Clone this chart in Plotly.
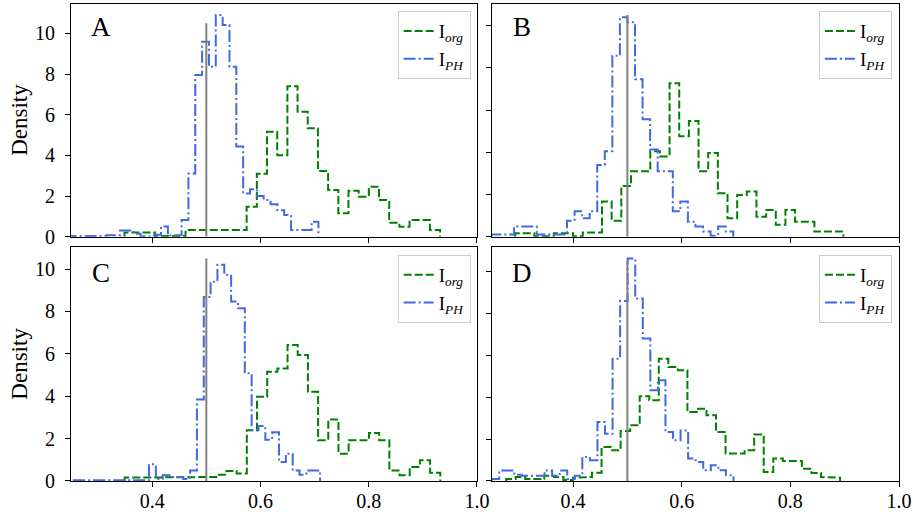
import plotly.graph_objects as go

# ---------------- data ----------------
X_RANGE = [0.25, 1.0]
X_TICKS = [0.4, 0.6, 0.8, 1.0]
Y_TICKS = [0, 2, 4, 6, 8, 10]
PANELS = ["A", "B", "C", "D"]
THRESHOLD = 0.5
THRESHOLD_TOP = 10.5
LABEL_ORG = "I<sub><i>org</i></sub>"
LABEL_PH = "I<sub><i>PH</i></sub>"

# Panel A
A_org_start = 0.3488
A_org_width = 0.01881
A_org_heights = [0.2, 0.2, 0.2, 0.03, 0.03, 0.03, 0.33, 0.33, 0.33, 0.33, 0.33, 0.33,
                 1.47, 3.1, 5.16, 4.0, 7.4, 6.15, 5.33, 3.23, 2.3, 1.15, 2.26, 1.97,
                 2.46, 1.8, 0.69, 0.49, 0.82, 0.82, 0.33]
A_ph_start = 0.2394
A_ph_width = 0.01264
A_ph_heights = [0.03, 0.03, 0.03, 0.03, 0.03, 0.03, 0.07, 0.07, 0.3, 0.3, 0.15,
                0.03, 0.0, 0.1, 0.5, 0.05, 0.08, 0.82, 3.11, 7.95, 9.59, 8.36,
                10.9, 10.41, 8.36, 4.43, 2.13, 2.33, 2.0, 1.8, 1.6, 1.3, 1.07,
                0.33, 0.33, 0.33, 0.74]

# Panel B
B_org_start = 0.2934
B_org_width = 0.01777
B_org_heights = [0.16, 0.16, 0.02, 0.02, 0.16, 0.16, 0.02, 0.2, 0.2,
                 1.67, 0.75, 2.4, 3.1, 3.1, 4.05, 3.8, 7.27, 4.76, 5.48, 3.1,
                 3.97, 2.06, 0.87, 1.98, 2.14, 0.95, 1.27, 0.56, 1.27, 0.71,
                 0.71, 0.24, 0.24, 0.24]
B_ph_start = 0.2498
B_ph_width = 0.01391
B_ph_heights = [0.1, 0.1, 0.1, 0.48, 0.48, 0.48, 0.1, 0.1, 0.1, 0.1,
                0.75, 1.2, 0.87, 1.2, 3.4, 4.05, 8.57, 10.4, 10.16, 7.46,
                5.56, 4.13, 3.1, 3.1, 1.2, 1.67, 0.71, 0.48, 0.24, 0.05,
                0.48, 0.24]

# Panel C
C_org_start = 0.3491
C_org_width = 0.01881
C_org_heights = [0.16, 0.16, 0.16, 0.16, 0.16, 0.16, 0.16, 0.19, 0.19, 0.3,
                 0.47, 0.35, 2.4, 3.97, 5.16, 5.31, 6.42, 5.95, 4.21, 1.92,
                 2.9, 1.29, 1.92, 1.92, 2.27, 1.92, 0.5, 0.27, 0.66, 0.98, 0.39]
C_ph_start = 0.2551
C_ph_width = 0.01264
C_ph_heights = [0.03, 0.03, 0.03, 0.03, 0.03, 0.03, 0.03, 0.03, 0.03, 0.03, 0.03,
                0.79, 0.1, 0.27, 0.19, 0.19, 0.1, 0.5, 3.85, 8.68, 9.4, 10.2,
                9.73, 8.47, 8.15, 5.08, 2.4, 2.6, 1.95, 2.3, 0.9, 1.29, 0.5,
                0.3, 0.5, 0.5]

# Panel D
D_org_start = 0.2769
D_org_width = 0.01756
D_org_heights = [0.1, 0.19, 0.1, 0.1, 0.25, 0.19, 0.05, 0.16, 0.19,
                 0.4, 1.63, 1.47, 2.39, 2.66, 4.05, 3.86, 5.85, 5.45, 5.3,
                 3.3, 3.46, 3.14, 2.34, 1.31, 1.31, 1.47, 2.22, 0.43, 1.07,
                 0.96, 0.96, 0.59, 0.38, 0.19, 0.16]
D_ph_start = 0.2502
D_ph_width = 0.01391
D_ph_heights = [0.1, 0.5, 0.5, 0.3, 0.25, 0.25, 0.25, 0.5, 0.25, 0.5, 0.1, 0.25,
                1.15, 0.99, 2.82, 2.26, 5.85, 8.6, 10.64, 8.72, 6.81, 4.34,
                4.82, 2.34, 1.95, 2.42, 1.07, 0.91, 0.51, 0.75, 0.51, 0.27]

SERIES = {
    "A": [(A_org_start, A_org_width, A_org_heights), (A_ph_start, A_ph_width, A_ph_heights)],
    "B": [(B_org_start, B_org_width, B_org_heights), (B_ph_start, B_ph_width, B_ph_heights)],
    "C": [(C_org_start, C_org_width, C_org_heights), (C_ph_start, C_ph_width, C_ph_heights)],
    "D": [(D_org_start, D_org_width, D_org_heights), (D_ph_start, D_ph_width, D_ph_heights)],
}

# ---------------- styling / layout ----------------
FONT = "Liberation Serif"
GREEN = "#008000"
BLUE = "#4169E1"
W, H = 913, 514
ML, MR, MT, MB = 71, 14, 4, 33
TICK_SIZE = 20
LEGEND_SIZE = 19
LETTER_SIZE = 27
YLABEL_SIZE = 23

X_DOMAINS = {"A": [0.0, 0.4903], "B": [0.5079, 1.0], "C": [0.0, 0.4903], "D": [0.5079, 1.0]}
Y_DOMAINS = {"A": [0.5122, 1.0], "B": [0.5122, 1.0], "C": [0.0, 0.4899], "D": [0.0, 0.4899]}
LEGEND_POS = {"A": (0.4827, 0.985), "B": (0.9915, 0.985), "C": (0.4827, 0.4738), "D": (0.9915, 0.4738)}


def step_path(start, width, heights):
    edges = [start + i * width for i in range(len(heights) + 1)]
    xs, ys = [edges[0]], [0.0]
    for i, h in enumerate(heights):
        xs += [edges[i], edges[i + 1]]
        ys += [h, h]
    xs.append(edges[-1])
    ys.append(0.0)
    return xs, ys


fig = go.Figure()
layout = dict(
    width=W, height=H,
    margin=dict(l=ML, r=MR, t=MT, b=MB, autoexpand=False),
    paper_bgcolor="white", plot_bgcolor="white",
    font=dict(family=FONT, size=TICK_SIZE, color="black"),
    showlegend=True,
)
annotations = []

for i, p in enumerate(PANELS):
    n = "" if i == 0 else str(i + 1)
    xa, ya = "x" + n, "y" + n
    leg = "legend" + n
    (os_, ow, oh), (ps, pw, ph) = SERIES[p]
    xo, yo = step_path(os_, ow, oh)
    xp, yp = step_path(ps, pw, ph)
    fig.add_trace(go.Scatter(x=xo, y=yo, mode="lines", xaxis=xa, yaxis=ya,
                             line=dict(color=GREEN, width=2, dash="8px,3px"),
                             name=LABEL_ORG, legend=leg))
    fig.add_trace(go.Scatter(x=xp, y=yp, mode="lines", xaxis=xa, yaxis=ya,
                             line=dict(color=BLUE, width=2, dash="12px,3px,2px,3px"),
                             name=LABEL_PH, legend=leg))
    fig.add_trace(go.Scatter(x=[THRESHOLD, THRESHOLD], y=[0, THRESHOLD_TOP], mode="lines",
                             xaxis=xa, yaxis=ya, line=dict(color="gray", width=2),
                             showlegend=False, hoverinfo="skip"))

    ymax = max(max(oh), max(ph), THRESHOLD_TOP) * 1.05
    bottom = p in ("C", "D")
    left = p in ("A", "C")
    layout["xaxis" + n] = dict(
        domain=X_DOMAINS[p], anchor=ya, range=X_RANGE, tickvals=X_TICKS,
        ticktext=[f"{v:.1f}" for v in X_TICKS], showticklabels=bottom,
        showline=True, linecolor="black", linewidth=1, mirror=True,
        ticks="outside", ticklen=5, tickcolor="black", tickwidth=1,
        showgrid=False, zeroline=False, ticklabelstandoff=-3, automargin=False,
        tickfont=dict(family=FONT, size=TICK_SIZE, color="black"),
    )
    layout["yaxis" + n] = dict(
        domain=Y_DOMAINS[p], anchor=xa, range=[0, ymax], tickvals=Y_TICKS,
        showticklabels=left,
        showline=True, linecolor="black", linewidth=1, mirror=True,
        ticks="outside", ticklen=5, tickcolor="black", tickwidth=1,
        showgrid=False, zeroline=False, ticklabelstandoff=6, automargin=False,
        tickfont=dict(family=FONT, size=TICK_SIZE, color="black"),
    )
    lx, ly = LEGEND_POS[p]
    layout[leg] = dict(
        x=lx, y=ly, xanchor="right", yanchor="top", xref="paper", yref="paper",
        bgcolor="rgba(255,255,255,0.8)", bordercolor="#cccccc", borderwidth=1,
        font=dict(family=FONT, size=LEGEND_SIZE, color="black"), traceorder="normal",
        tracegroupgap=0,
    )
    annotations.append(dict(
        text=p, xref=xa + " domain", yref=ya + " domain", x=0.074,
        y=0.90 if not bottom else 0.892, xanchor="center", yanchor="middle",
        showarrow=False, font=dict(family=FONT, size=LETTER_SIZE, color="black"),
    ))
    if left:
        yd = Y_DOMAINS[p]
        annotations.append(dict(
            text="Density", xref="paper", yref="paper", x=(19.5 - ML) / (W - ML - MR),
            y=(yd[0] + yd[1]) / 2, xanchor="center", yanchor="middle", textangle=-90,
            showarrow=False, font=dict(family=FONT, size=YLABEL_SIZE, color="black"),
        ))

layout["annotations"] = annotations
fig.update_layout(**layout)
fig.write_html(
    "out.html",
    config={"displayModeBar": False},
    post_script="document.body.style.margin='0';document.body.style.overflow='hidden';",
)
